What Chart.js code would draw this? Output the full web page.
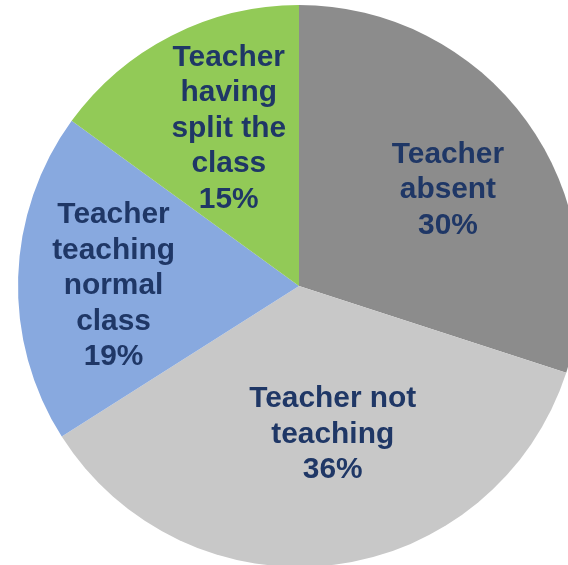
<!DOCTYPE html>
<html>
<head>
<meta charset="utf-8">
<script src="https://cdn.jsdelivr.net/npm/chart.js@4.4.1/dist/chart.umd.min.js"></script>
<style>
    html, body { margin: 0; padding: 0; background: #ffffff; overflow: hidden; }
    #wrap { position: absolute; left: 0; top: 0; width: 600px; height: 568px; }
</style>
</head>
<body>
<div id="wrap"><canvas id="pie"></canvas></div>
<script>
// Slices, clockwise from 12 o'clock
const labels = [
    ["Teacher", "absent"],
    ["Teacher not", "teaching"],
    ["Teacher", "teaching", "normal", "class"],
    ["Teacher", "having", "split the", "class"]
];
const values = [30, 36, 19, 15];
const colors = ["#8c8c8c", "#c8c8c8", "#88a9df", "#92ca57"];

// Label centre offsets, as a fraction of the pie radius
const labelOffsets = [
    [0.53, -0.34],
    [0.12, 0.53],
    [-0.66, 0.0],
    [-0.25, -0.56]
];

const sliceLabels = {
    id: "sliceLabels",
    afterDatasetsDraw(chart) {
        const ctx = chart.ctx;
        const meta = chart.getDatasetMeta(0);
        const lineH = 35.5;
        const stretch = 1.03;
        meta.data.forEach((arc, i) => {
            const r = arc.outerRadius;
            const cx = arc.x + labelOffsets[i][0] * r;
            const cy = arc.y + labelOffsets[i][1] * r;
            const lines = labels[i].concat([values[i] + "%"]);
            const top = cy - (lines.length - 1) * lineH / 2;
            ctx.save();
            ctx.translate(cx, 0);
            ctx.scale(stretch, 1);
            ctx.fillStyle = "#1f3766";
            ctx.font = "bold 29px 'Liberation Sans', Arial, sans-serif";
            ctx.textAlign = "center";
            ctx.textBaseline = "middle";
            lines.forEach((txt, k) => ctx.fillText(txt, 0, top + k * lineH));
            ctx.restore();
        });
    }
};

const canvas = document.getElementById("pie");
new Chart(canvas.getContext("2d"), {
    type: "pie",
    data: {
        labels: labels.map(l => l.join(" ")),
        datasets: [{
            data: values,
            backgroundColor: colors,
            borderWidth: 0
        }]
    },
    options: {
        responsive: true,
        maintainAspectRatio: false,
        animation: false,
        layout: { padding: { left: 18, top: 5, right: 20, bottom: 1 } },
        plugins: {
            legend: { display: false },
            tooltip: { enabled: false }
        }
    },
    plugins: [sliceLabels]
});
</script>
</body>
</html>
